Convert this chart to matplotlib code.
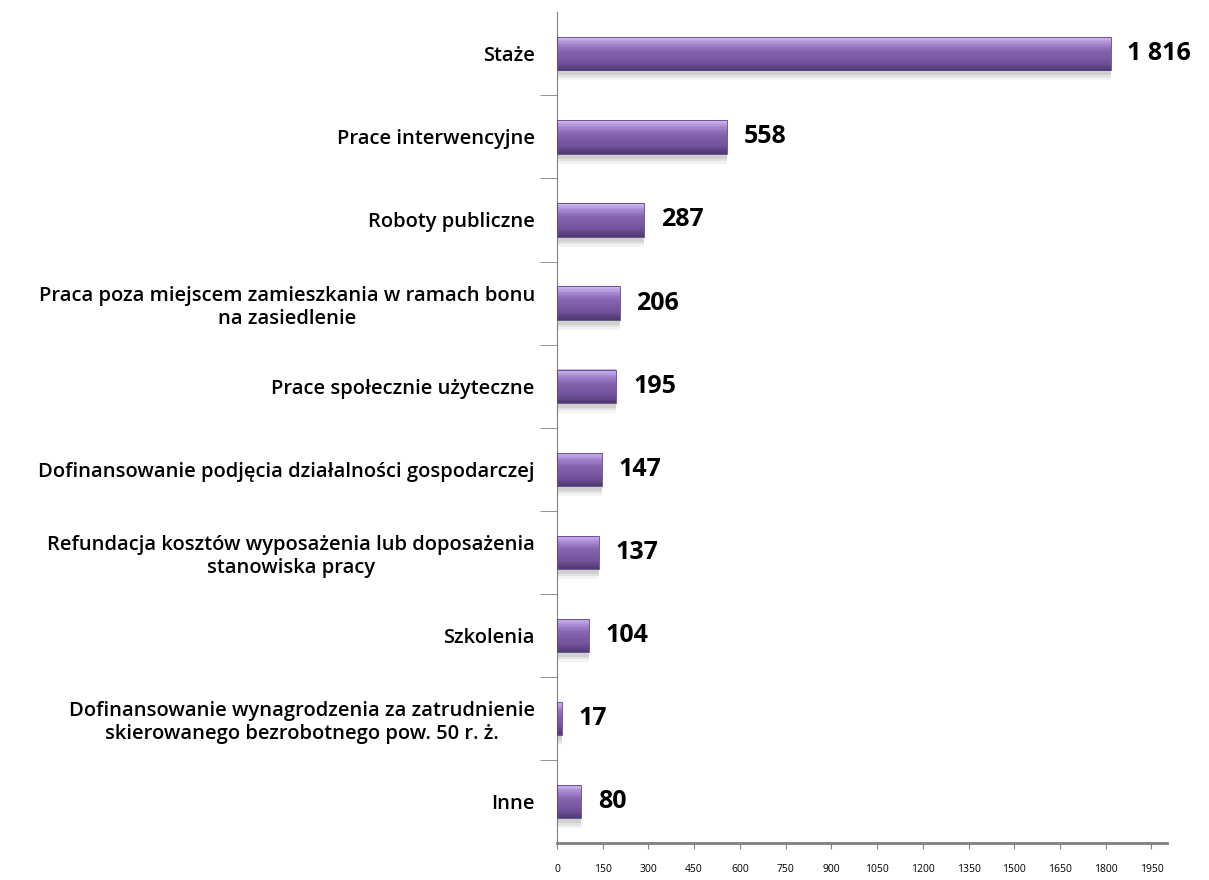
import numpy as np
import matplotlib.pyplot as plt
from matplotlib.colors import LinearSegmentedColormap

plt.rcParams['font.family'] = ['Open Sans', 'DejaVu Sans']

categories = [
    'Staże',
    'Prace interwencyjne',
    'Roboty publiczne',
    'Praca poza miejscem zamieszkania w ramach bonu\nna zasiedlenie',
    'Prace społecznie użyteczne',
    'Dofinansowanie podjęcia działalności gospodarczej',
    'Refundacja kosztów wyposażenia lub doposażenia\nstanowiska pracy',
    'Szkolenia',
    'Dofinansowanie wynagrodzenia za zatrudnienie\nskierowanego bezrobotnego pow. 50 r. ż.',
    'Inne',
]
values = [1816, 558, 287, 206, 195, 147, 137, 104, 17, 80]
value_labels = ['1 816', '558', '287', '206', '195', '147', '137', '104', '17', '80']
xticks = list(range(0, 2000, 150))

fig = plt.figure(figsize=(12.09, 8.8), dpi=100)
ax = fig.add_axes([0.4607, 0.042, 0.5043, 0.944])

y = np.arange(len(categories))
bar_h = 0.4

# soft shadow under the bars
for d, a in [(0.06, 0.35), (0.09, 0.25), (0.12, 0.15)]:
    ax.barh(y + d, values, height=bar_h, color='#b0b0b0', alpha=a, zorder=1, linewidth=0)

# gradient bars made of thin horizontal strips (top light -> bottom dark)
grad = LinearSegmentedColormap.from_list(
    'bar', ['#cdb6ee', '#a385cf', '#8565b0', '#7b5ba6', '#6e4f98', '#523a74'])
n = 24
for k in range(n):
    off = -bar_h / 2 + (k + 0.5) * bar_h / n
    ax.barh(y + off, values, height=bar_h / n * 1.05, color=grad(k / (n - 1)),
            linewidth=0, zorder=2)
ax.barh(y, values, height=bar_h, fill=False, edgecolor='#5a4280', linewidth=0.6, zorder=3)

for yi, v, lab in zip(y, values, value_labels):
    ax.annotate(lab, (v, yi), xytext=(12, 0), textcoords='offset points',
                va='center', ha='left', fontsize=18, fontweight='bold', color='black')

ax.set_xlim(0, 2000)
ax.set_ylim(len(categories) - 0.5, -0.5)
ax.set_xticks(xticks)
ax.set_xticklabels([str(t) for t in xticks], fontsize=7.5)
ax.tick_params(axis='x', length=4, pad=11, color='#808080')

ax.set_yticks(y)
ax.set_yticklabels(categories, fontsize=14.5, fontweight='semibold', multialignment='center')
ax.tick_params(axis='y', length=0, pad=16)
ax.set_yticks(np.arange(0.5, len(categories) - 1, 1.0), minor=True)
ax.tick_params(axis='y', which='minor', length=12, color='#808080')

for s in ['top', 'right']:
    ax.spines[s].set_visible(False)
ax.spines['left'].set_color('#808080')
ax.spines['bottom'].set_color('#808080')
ax.spines['bottom'].set_linewidth(2)

fig.savefig('out.png', dpi=100)
